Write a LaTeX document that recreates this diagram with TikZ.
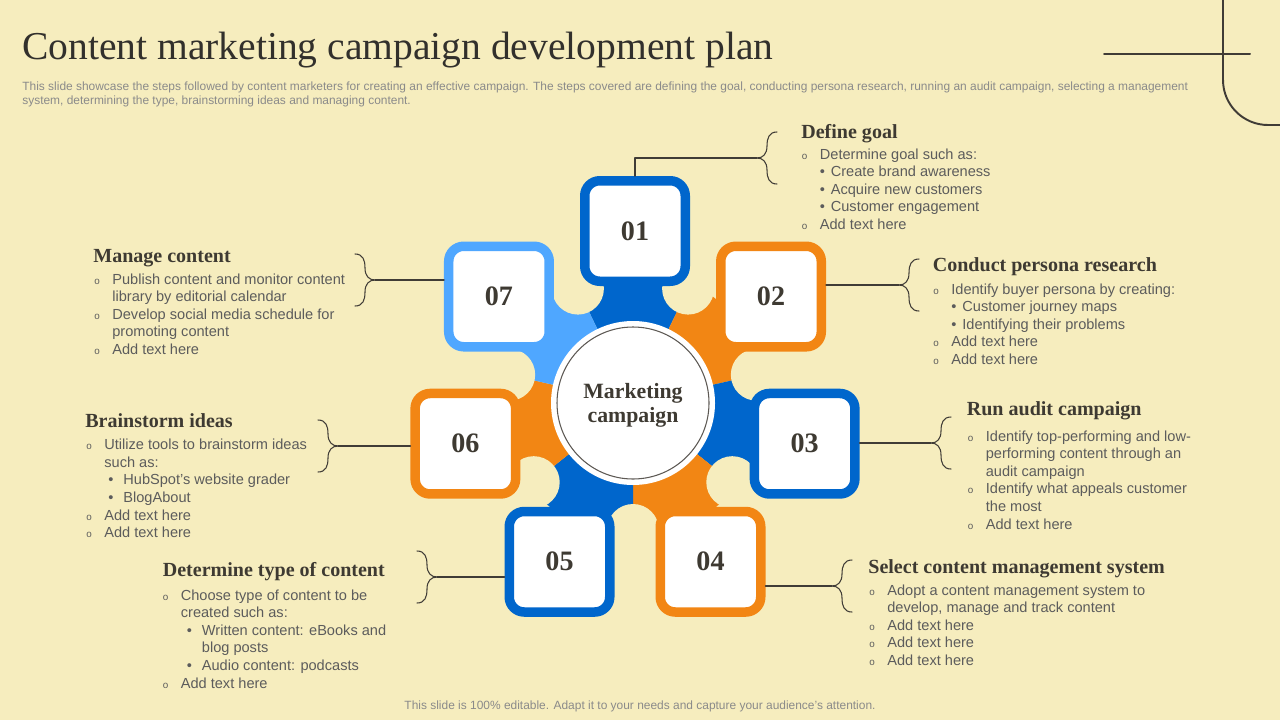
\documentclass[tikz,border=0pt]{standalone}
\usepackage{fontspec}
\usepackage{tikz}
\usetikzlibrary{calc}
\newfontfamily\hdfont{Liberation Serif}
\newfontfamily\bodyfont{Liberation Sans}
\definecolor{ColBg}{RGB}{246,237,190}
\definecolor{ColBlue}{RGB}{0,102,204}
\definecolor{ColOrange}{RGB}{242,134,20}
\definecolor{ColLight}{RGB}{79,167,255}
\definecolor{ColTitle}{RGB}{50,48,44}
\definecolor{ColHead}{RGB}{62,58,50}
\definecolor{ColText}{RGB}{92,92,92}
\definecolor{ColNote}{RGB}{138,138,138}
\definecolor{ColLine}{RGB}{64,60,54}

\newlength{\px}\setlength{\px}{0.02cm}
\newcommand{\pbul}{{\fontsize{5.6}{6}\selectfont o}}
\newcommand{\pitem}{\strut\makebox[18\px][l]{\pbul}}
\newcommand{\pcont}[1][18]{\strut\hspace*{#1\px}}
\newcommand{\psub}[1][29]{\strut\hspace*{\dimexpr #1\px-11\px\relax}\makebox[11\px][l]{•}}

\begin{document}
\begin{tikzpicture}[
  x=0.02cm, y=-0.02cm,
  line cap=round,
  line join=round,
  numbox/.style={draw=#1, fill=white, line width=9.5\px, rounded corners=15\px,
    minimum size=100.5\px, inner sep=0pt, text=ColHead,
    font=\hdfont\bfseries\fontsize{16}{18}\selectfont},
  head/.style={anchor=base west, inner sep=0pt, text=ColHead,
    font=\hdfont\bfseries\fontsize{11.4}{13}\selectfont},
  body/.style={anchor=north west, inner sep=0pt, align=left, text=ColText,
    font=\bodyfont\fontsize{8.3}{10}\selectfont},
  link/.style={ColLine, line width=0.8pt},
  curly/.pic={\draw[ColLine, line width=0.6pt] (20,-26) .. controls (12,-26) and (10,-20) .. (10,-12)
    .. controls (10,-4) and (6,0) .. (0,0) .. controls (6,0) and (10,4) .. (10,12)
    .. controls (10,20) and (12,26) .. (20,26);}
]
  \useasboundingbox (0,0) rectangle (1280,720);
  \fill[ColBg] (0,0) rectangle (1280,720);

  % corner ornament
  \draw[ColLine, line width=1.1pt] (1104,54) -- (1250,54);
  \draw[ColLine, line width=1.1pt] (1223,0) -- (1223,80) arc[start angle=180, end angle=90, radius=45] -- (1280,125);

  % title and notes
  \node[anchor=base west, inner sep=0pt, text=ColTitle, font=\hdfont\fontsize{22.5}{27}\selectfont] (title) at (22,59)
    {Content marketing campaign development plan};
  \node[anchor=north west, inner sep=0pt, align=left, text=ColNote, font=\bodyfont\fontsize{6.8}{7.9}\selectfont] (intro) at (22,80.2)
    {\strut This slide showcase the steps followed by content marketers for creating an effective campaign. The steps covered are defining the goal, conducting persona research, running an audit campaign, selecting a management\\
     system, determining the type, brainstorming ideas and managing content.};
  \node[anchor=base, inner sep=0pt, text=ColNote, font=\bodyfont\fontsize{6.8}{8}\selectfont] (foot) at (640,709)
    {This slide is 100\% editable. Adapt it to your needs and capture your audience’s attention.};

  % wheel
  \begin{scope}[shift={(633,403)}, y=0.02cm]
    \foreach \i/\c in {1/ColBlue,2/ColOrange,3/ColBlue,4/ColOrange,5/ColBlue,6/ColOrange,7/ColLight}{
      \pgfmathsetmacro{\a}{90-(\i-1)*360/7}
      \fill[\c] (0,0) -- ({\a-180/7}:133) arc[start angle={\a-180/7}, end angle={\a+180/7}, radius=133] -- cycle;
    }
    % notches between the arms
    \foreach \i in {1,...,7}{
      \pgfmathsetmacro{\b}{90-(\i-1)*360/7-180/7}
      \fill[ColBg] (\b:127) circle[radius=26];
    }
    \foreach \i/\c in {1/ColBlue,2/ColOrange,3/ColBlue,4/ColOrange,5/ColBlue,6/ColOrange,7/ColLight}{
      \pgfmathsetmacro{\a}{90-(\i-1)*360/7}
      \node[numbox=\c] (b\i) at ($(\a:174)+(2,-2)$) {0\i};
    }
    \node[circle, fill=white, minimum size=164\px, inner sep=0pt] (mc) at (0,0) {};
    \draw[ColLine!85, line width=0.6pt] (mc.center) circle[radius=76];
    \node[align=center, inner sep=0pt, text=ColHead, font=\hdfont\bfseries\fontsize{12.4}{13.8}\selectfont] (mt) at (0,-2)
      {Marketing\\campaign};
  \end{scope}

  % brace tips
  \coordinate (k1) at (757,158);
  \coordinate (k2) at (899,285);
  \coordinate (k3) at (931,443);
  \coordinate (k4) at (832,586);
  \coordinate (k5) at (437,577);
  \coordinate (k6) at (338,446);
  \coordinate (k7) at (375,280);

  \draw[link] (b1.north) |- (k1);
  \draw[link] (k2 -| b2.east) -- (k2);
  \draw[link] (k3 -| b3.east) -- (k3);
  \draw[link] (k4 -| b4.east) -- (k4);
  \draw[link] (k5 -| b5.west) -- (k5);
  \draw[link] (k6 -| b6.west) -- (k6);
  \draw[link] (k7 -| b7.west) -- (k7);

  \foreach \k in {k1,k2,k3,k4}{\pic at (\k) {curly};}
  \foreach \k in {k5,k6,k7}{\pic[xscale=-1] at (\k) {curly};}

  % 01
  \node[head] (h1) at (801,138) {Define goal};
  \node[body] (t1) at (801.5,146.6) {\pitem Determine goal such as:\\ \psub Create brand awareness\\ \psub Acquire new customers\\
    \psub Customer engagement\\ \pitem Add text here};
  % 02
  \node[head] (h2) at (932.5,271.5) {Conduct persona research};
  \node[body] (t2) at (933,281.6) {\pitem Identify buyer persona by creating:\\ \psub Customer journey maps\\ \psub Identifying their problems\\
    \pitem Add text here\\ \pitem Add text here};
  % 03
  \node[head] (h3) at (966.5,415) {Run audit campaign};
  \node[body] (t3) at (967.5,428.6) {\pitem Identify top-performing and low-\\ \pcont performing content through an\\ \pcont audit campaign\\
    \pitem Identify what appeals customer\\ \pcont the most\\ \pitem Add text here};
  % 04
  \node[head] (h4) at (868,573) {Select content management system};
  \node[body] (t4) at (869,582.6) {\pitem Adopt a content management system to\\ \pcont develop, manage and track content\\
    \pitem Add text here\\ \pitem Add text here\\ \pitem Add text here};
  % 05
  \node[head] (h5) at (162.5,576.5) {Determine type of content};
  \node[body] (t5) at (162.5,587.6) {\pitem Choose type of content to be\\ \pcont created such as:\\ \psub[35] Written content: eBooks and\\
    \pcont[35] blog posts\\ \psub[35] Audio content: podcasts\\ \pitem Add text here};
  % 06
  \node[head] (h6) at (85,427) {Brainstorm ideas};
  \node[body] (t6) at (86,437.1) {\pitem Utilize tools to brainstorm ideas\\ \pcont such as:\\ \psub[33] HubSpot’s website grader\\
    \psub[33] BlogAbout\\ \pitem Add text here\\ \pitem Add text here};
  % 07
  \node[head] (h7) at (93,262) {Manage content};
  \node[body] (t7) at (94,271.6) {\pitem Publish content and monitor content\\ \pcont library by editorial calendar\\
    \pitem Develop social media schedule for\\ \pcont promoting content\\ \pitem Add text here};
\end{tikzpicture}
\end{document}
